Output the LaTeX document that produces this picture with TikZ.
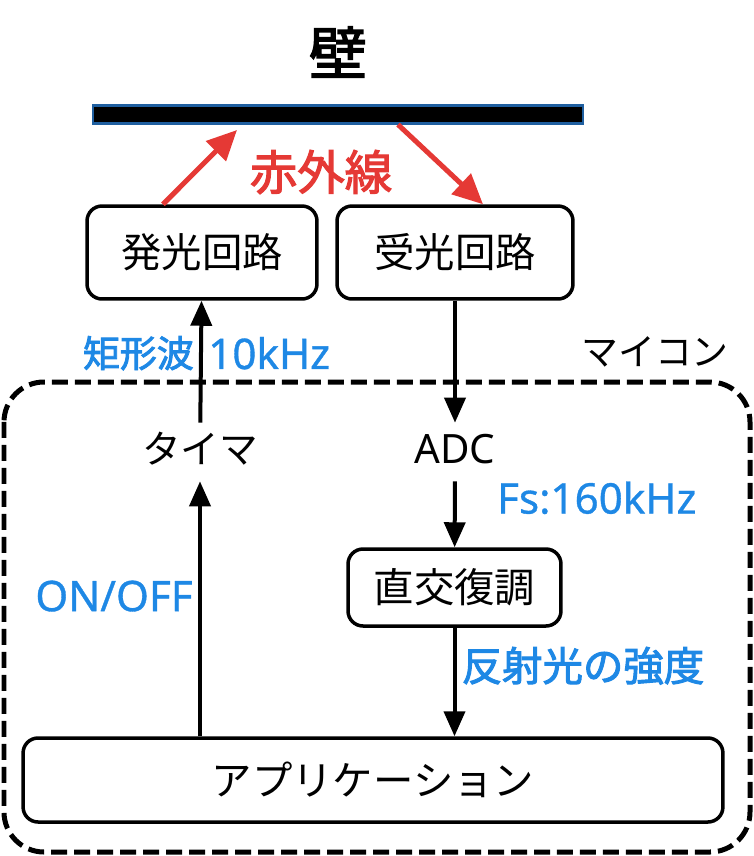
\documentclass[tikz,border=0pt]{standalone}
\usepackage{fontspec}
\setmainfont{Noto Sans CJK JP}
\newfontfamily\latinfont{Noto Sans}
\newfontfamily\medfont{Noto Sans CJK JP}[FakeBold=2.4]
\newfontfamily\medlatin{Noto Sans}[FakeBold=0.8]
\usetikzlibrary{arrows.meta,positioning}
\definecolor{irred}{HTML}{E53935}
\definecolor{lblblue}{HTML}{1E88E5}
\definecolor{wallblue}{HTML}{1F5FA0}
\begin{document}
\begin{tikzpicture}[x=0.02cm,y=-0.02cm,
    blk/.style={draw,line width=0.07cm,rounded corners=0.3cm,font=\fontsize{23}{27}\selectfont},
    plain/.style={font=\fontsize{22}{26}\selectfont,text height=18pt,text depth=5pt,inner sep=5pt},
    lbl/.style={text=lblblue,font=\fontsize{24}{28}\selectfont\medlatin,inner sep=3pt},
    sig/.style={line width=0.08cm,-{Triangle[length=0.5cm,width=0.42cm]}},
    ir/.style={irred,line width=0.1cm,-{Triangle[length=0.6cm,width=0.55cm]}}]
  \useasboundingbox (0,0) rectangle (754,856);
    \node[font=\fontsize{33}{38}\selectfont\medfont] (wlabel) at (338,52) {壁};
    \node[fill=black,draw=wallblue,line width=1.2pt,minimum width=9.8cm,minimum height=0.36cm,inner sep=0pt] (wall) at (338,114.5) {};
    \node[blk,minimum width=4.6cm,minimum height=1.86cm] (hakko) at (202,252.5) {発光回路};
    \node[blk,minimum width=4.72cm,minimum height=1.86cm] (juko) at (455,252.5) {受光回路};
    \node[text=irred,font=\fontsize{27}{31}\selectfont\medfont] (irlabel) at (321,172) {赤外線};
    \coordinate (irup) at (237,130);
    \draw[ir] ([xshift=-0.78cm]hakko.north) -- (irup);
    \draw[ir] ([xshift=1.2cm]wall.south) -- ([xshift=0.56cm]juko.north);
    \draw[line width=0.1cm,dash pattern=on 0.32cm off 0.14cm,rounded corners=0.8cm] (4,382) rectangle (750,852);
    \node[font=\fontsize{21}{25}\selectfont] (mcu) at (655,352) {マイコン};
    \node[plain] (tm) at (200,452) {タイマ};
    \node[plain,font=\fontsize{23}{27}\selectfont\latinfont] (adc) at (455,452) {ADC};
    \node[blk,minimum width=4.26cm,minimum height=1.54cm] (chokko) at (454.5,587.5) {直交復調};
    \node[blk,minimum width=14cm,minimum height=1.68cm] (app) at (373,780) {アプリケーション};
    \draw[sig] (tm) -- (hakko) node[lbl,pos=.57,left,font=\fontsize{21}{25}\selectfont\medfont] {矩形波} node[lbl,pos=.57,right] {10kHz};
    \draw[sig] (juko) -- (adc);
    \draw[sig] (adc) -- (chokko) node[lbl,pos=.25,right=0.7cm] {Fs:160kHz};
    \draw[sig] (chokko.south) -- (chokko.south |- app.north) node[lbl,pos=.35,right,font=\fontsize{23}{27}\selectfont\medfont] {反射光の強度};
    \draw[sig] (app.north -| tm) -- (tm) node[lbl,pos=.55,left] {ON/OFF};
\end{tikzpicture}
\end{document}
